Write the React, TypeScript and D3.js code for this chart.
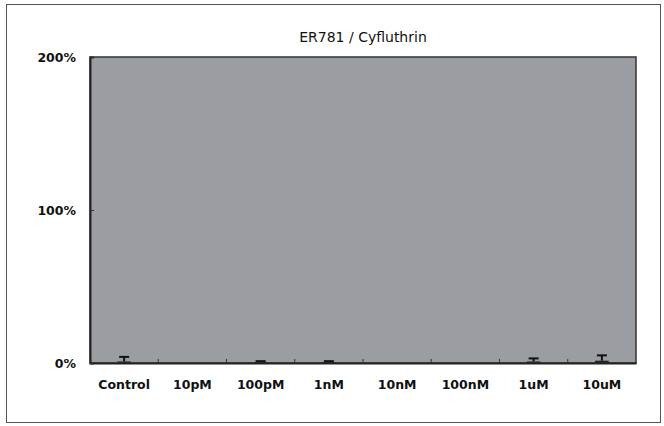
import { useEffect, useRef } from "react";
import * as d3 from "d3";

const WIDTH = 664;
const HEIGHT = 426;
const MARGIN = { top: 57, right: 28, bottom: 63, left: 90 };

const categories = ["Control", "10pM", "100pM", "1nM", "10nM", "100nM", "1uM", "10uM"];
const means = [1, 0, 0.6, 0.6, 0, 0, 1, 1.5];
const errors = [3, 0, 0.6, 0.6, 0, 0, 2, 3.5];
const yTicks = [0, 100, 200];

const TITLE = "ER781 / Cyfluthrin";
const FONT = "'DejaVu Sans', sans-serif";

const App = () => {
  const ref = useRef<SVGSVGElement>(null);

  useEffect(() => {
    const svg = d3.select(ref.current);
    svg.selectAll("*").remove();

    const boundsWidth = WIDTH - MARGIN.left - MARGIN.right;
    const boundsHeight = HEIGHT - MARGIN.top - MARGIN.bottom;

    const xScale = d3.scaleBand().domain(categories).range([0, boundsWidth]);
    const yScale = d3.scaleLinear().domain([0, 200]).range([boundsHeight, 0]);

    // outer frame
    svg
      .append("rect")
      .attr("x", 6.5)
      .attr("y", 4.5)
      .attr("width", WIDTH - 10)
      .attr("height", HEIGHT - 8)
      .attr("fill", "#fff")
      .attr("stroke", "#555")
      .attr("stroke-width", 1);

    svg
      .append("text")
      .attr("x", MARGIN.left + boundsWidth / 2)
      .attr("y", 42)
      .attr("text-anchor", "middle")
      .attr("font-family", FONT)
      .attr("font-size", 14)
      .attr("font-weight", 500)
      .attr("fill", "#111")
      .text(TITLE);

    const g = svg.append("g").attr("transform", `translate(${MARGIN.left},${MARGIN.top})`);

    g.append("rect")
      .attr("width", boundsWidth)
      .attr("height", boundsHeight)
      .attr("fill", "#9a9ea3");

    // bars
    g.selectAll(".bar")
      .data(categories)
      .join("rect")
      .attr("x", (d) => xScale(d)! + xScale.bandwidth() * 0.4)
      .attr("width", xScale.bandwidth() * 0.2)
      .attr("y", (_, i) => yScale(means[i]))
      .attr("height", (_, i) => boundsHeight - yScale(means[i]))
      .attr("fill", "#222");

    // error bars
    const errTop = (d: string) => {
      const i = categories.indexOf(d);
      return yScale(means[i] + errors[i]);
    };
    const eb = g
      .selectAll(".err")
      .data(categories.filter((_, i) => errors[i] > 0))
      .join("g")
      .attr("transform", (d) => `translate(${xScale(d)! + xScale.bandwidth() / 2},0)`);
    eb.append("line")
      .attr("y1", (d) => yScale(means[categories.indexOf(d)]))
      .attr("y2", errTop)
      .attr("stroke", "#111")
      .attr("stroke-width", 2);
    eb.append("line")
      .attr("x1", -5)
      .attr("x2", 5)
      .attr("y1", errTop)
      .attr("y2", errTop)
      .attr("stroke", "#111")
      .attr("stroke-width", 2);

    // plot frame
    g.append("rect")
      .attr("width", boundsWidth)
      .attr("height", boundsHeight)
      .attr("fill", "none")
      .attr("stroke", "#333")
      .attr("stroke-width", 1.5);

    // x axis
    const xAxis = g
      .append("g")
      .attr("transform", `translate(0,${boundsHeight})`)
      .call(d3.axisBottom(xScale).tickSize(0).tickPadding(17));
    xAxis.select(".domain").attr("stroke", "#222").attr("stroke-width", 2);
    xAxis
      .selectAll("text")
      .attr("font-family", FONT)
      .attr("font-weight", "bold")
      .attr("font-size", 12.5)
      .attr("fill", "#111");
    g.selectAll(".xtick")
      .data(categories.slice(1))
      .join("line")
      .attr("x1", (d) => xScale(d)!)
      .attr("x2", (d) => xScale(d)!)
      .attr("y1", boundsHeight)
      .attr("y2", boundsHeight - 4)
      .attr("stroke", "#333");

    // y axis
    const yAxis = g.append("g").call(
      d3
        .axisLeft(yScale)
        .tickValues(yTicks)
        .tickSize(-4)
        .tickPadding(14)
        .tickFormat((d) => `${d}%`)
    );
    yAxis.select(".domain").attr("stroke", "#222").attr("stroke-width", 2);
    yAxis.selectAll("line").attr("stroke", "#333");
    yAxis
      .selectAll("text")
      .attr("font-family", FONT)
      .attr("font-weight", "bold")
      .attr("font-size", 12.5)
      .attr("fill", "#111");
  }, []);

  return (
    <svg
      ref={ref}
      width={WIDTH}
      height={HEIGHT}
      style={{ position: "absolute", left: 0, top: 0, background: "#fff" }}
    />
  );
};

export default App;
